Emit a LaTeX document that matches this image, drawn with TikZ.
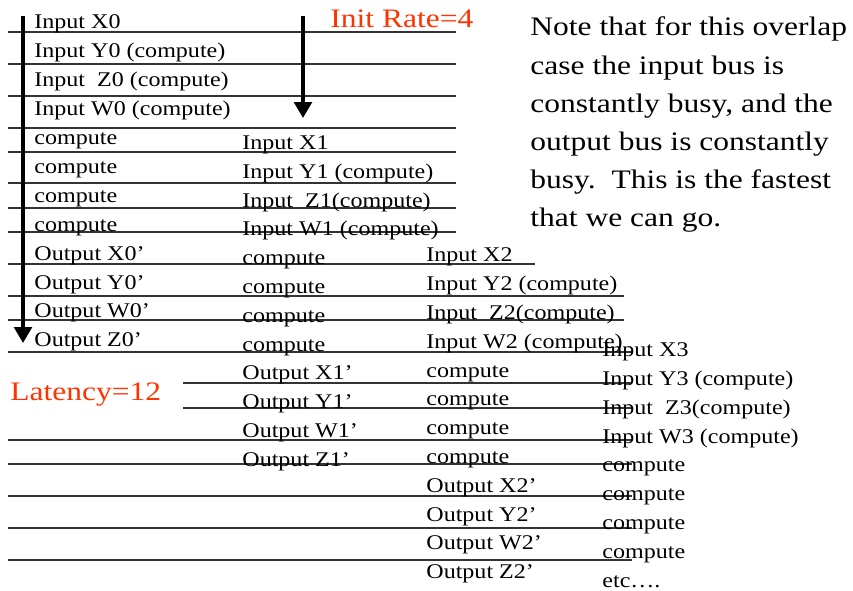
\documentclass[tikz,border=0pt]{standalone}
\usepackage{fontspec}
\setmainfont{Liberation Serif}
\usetikzlibrary{arrows.meta}
\definecolor{ratered}{RGB}{255,51,0}
\tikzset{
  cell/.style={anchor=base west,inner sep=0pt,xscale=1.15,font=\fontsize{11.9}{13}\selectfont},
  bigtxt/.style={anchor=base west,inner sep=0pt,xscale=1.18,font=\fontsize{15.2}{18}\selectfont},
  tabline/.style={black!80,line width=0.7pt},
  busarrow/.style={line width=1.9pt,-{Triangle[width=10pt,length=9pt]}}
}
\begin{document}
\begin{tikzpicture}[x=0.02cm,y=-0.02cm]
\useasboundingbox (0,0) rectangle (853,591);
\draw[tabline] (8,32)--(456,32); \draw[tabline] (8,64)--(456,64);
\draw[tabline] (8,96)--(456,96); \draw[tabline] (8,128)--(456,128);
\draw[tabline] (8,152)--(456,152); \draw[tabline] (8,183)--(456,183);
\draw[tabline] (8,208)--(456,208); \draw[tabline] (8,232)--(456,232);
\draw[tabline] (8,264)--(535,264); \draw[tabline] (8,296)--(624,296);
\draw[tabline] (8,320)--(624,320); \draw[tabline] (8,352)--(632,352);
\draw[tabline] (183,383)--(632,383); \draw[tabline] (183,408)--(632,408);
\draw[tabline] (8,440)--(632,440); \draw[tabline] (8,464)--(632,464);
\draw[tabline] (8,496)--(632,496); \draw[tabline] (8,528)--(632,528);
\draw[tabline] (8,560)--(632,560);
\coordinate (lat0) at (23,16); \coordinate (lat1) at (23,343);
\coordinate (rate0) at (303,16); \coordinate (rate1) at (303,118);
\draw[busarrow] (lat0)--(lat1);
\draw[busarrow] (rate0)--(rate1);
\node[cell] (x0in) at (34,29) {Input X0};
\node[cell] (y0in) at (34,57.9) {Input Y0 (compute)};
\node[cell] (z0in) at (34,86.8) {Input\ \ Z0 (compute)};
\node[cell] (w0in) at (34,115.7) {Input W0 (compute)};
\node[cell] (c0a) at (34,144.6) {compute};
\node[cell] (c0b) at (34,173.5) {compute};
\node[cell] (c0c) at (34,202.4) {compute};
\node[cell] (c0d) at (34,231.3) {compute};
\node[cell] (x0out) at (34,260.2) {Output X0’};
\node[cell] (y0out) at (34,289.1) {Output Y0’};
\node[cell] (w0out) at (34,318) {Output W0’};
\node[cell] (z0out) at (34,346.9) {Output Z0’};
\node[cell] (x1in) at (242,149.6) {Input X1};
\node[cell] (y1in) at (242,178.4) {Input Y1 (compute)};
\node[cell] (z1in) at (242,207.2) {Input\ \ Z1(compute)};
\node[cell] (w1in) at (242,236) {Input W1 (compute)};
\node[cell] (c1a) at (242,264.8) {compute};
\node[cell] (c1b) at (242,293.6) {compute};
\node[cell] (c1c) at (242,322.4) {compute};
\node[cell] (c1d) at (242,351.2) {compute};
\node[cell] (x1out) at (242,380) {Output X1’};
\node[cell] (y1out) at (242,408.8) {Output Y1’};
\node[cell] (w1out) at (242,437.6) {Output W1’};
\node[cell] (z1out) at (242,466.4) {Output Z1’};
\node[cell] (x2in) at (426,262) {Input X2};
\node[cell] (y2in) at (426,290.8) {Input Y2 (compute)};
\node[cell] (z2in) at (426,319.6) {Input\ \ Z2(compute)};
\node[cell] (w2in) at (426,348.4) {Input W2 (compute)};
\node[cell] (c2a) at (426,377.2) {compute};
\node[cell] (c2b) at (426,406) {compute};
\node[cell] (c2c) at (426,434.8) {compute};
\node[cell] (c2d) at (426,463.6) {compute};
\node[cell] (x2out) at (426,492.4) {Output X2’};
\node[cell] (y2out) at (426,521.2) {Output Y2’};
\node[cell] (w2out) at (426,550) {Output W2’};
\node[cell] (z2out) at (426,578.8) {Output Z2’};
\node[cell] (x3in) at (602,357) {Input X3};
\node[cell] (y3in) at (602,385.75) {Input Y3 (compute)};
\node[cell] (z3in) at (602,414.5) {Input\ \ Z3(compute)};
\node[cell] (w3in) at (602,443.25) {Input W3 (compute)};
\node[cell] (c3a) at (602,472) {compute};
\node[cell] (c3b) at (602,500.75) {compute};
\node[cell] (c3c) at (602,529.5) {compute};
\node[cell] (c3d) at (602,558.25) {compute};
\node[cell] (etc) at (602,587) {etc….};
\node[bigtxt,ratered] (rate) at (330,28) {Init Rate=4};
\node[bigtxt,ratered] (latency) at (10,401) {Latency=12};
\node[bigtxt] (note1) at (530,36) {Note that for this overlap};
\node[bigtxt] (note2) at (530,74.2) {case the input bus is};
\node[bigtxt] (note3) at (530,112.4) {constantly busy, and the};
\node[bigtxt] (note4) at (530,150.6) {output bus is constantly};
\node[bigtxt] (note5) at (530,188.8) {busy.\ \ This is the fastest};
\node[bigtxt] (note6) at (530,227) {that we can go.};
\end{tikzpicture}
\end{document}
